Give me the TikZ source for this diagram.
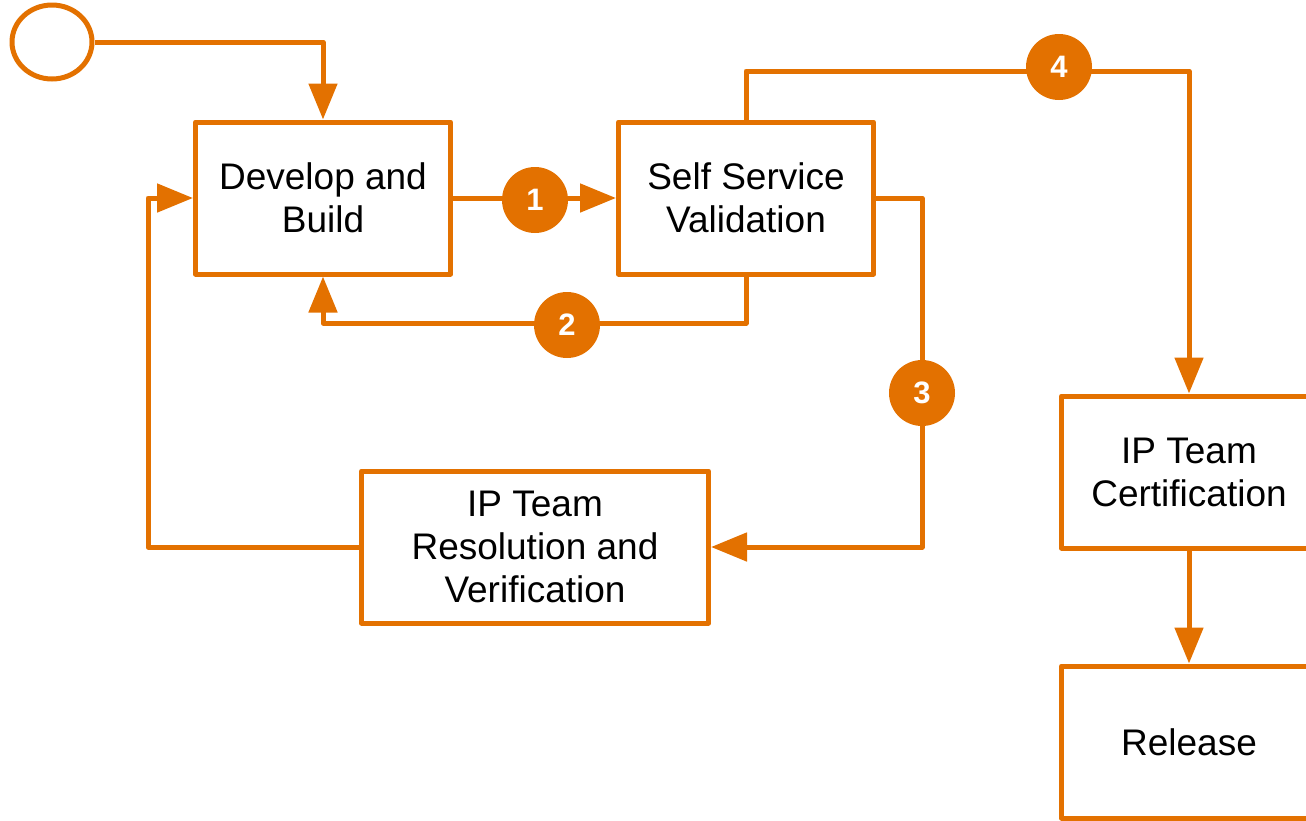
\documentclass[tikz,border=0pt]{standalone}
\usepackage{fontspec}
\setmainfont{Liberation Sans}
\usetikzlibrary{arrows.meta, shapes.geometric}
\definecolor{flow}{RGB}{227,113,0}

\begin{document}
\begin{tikzpicture}[%
        x = 1pt,
        y = -1pt,
        line width = 5pt,
        line join = round,
        > = {Triangle[length = 36pt, width = 28pt]},
        box/.style = {%
            draw = flow,
            minimum width = 255pt,
            minimum height = 152pt,
            inner sep = 0pt,
            align = center,
            font = \fontsize{37}{43}\selectfont
        },
        badge/.style = {%
            circle,
            fill = flow,
            text = white,
            minimum size = 66pt,
            inner sep = 0pt,
            font = \fontsize{31}{31}\selectfont\bfseries
        }
    ]

        % Size of the page.
        \clip (0, 0) rectangle (1306, 820);

        % The start mark and the steps.
        \node[draw = flow, ellipse, minimum width = 80pt, minimum height = 74pt,
            inner sep = 0pt] (start) at (52, 42) {};
        \node[box] (dev) at (323, 198) {Develop and\\Build};
        \node[box] (ssv) at (746, 198) {Self Service\\Validation};
        \node[box, minimum width = 347pt] (ipr) at (535, 547)
            {IP Team\\Resolution and\\Verification};
        \node[box] (cert) at (1189, 472) {IP Team\\Certification};
        \node[box] (rel) at (1189, 742) {Release};

        % Corners of the connectors.
        \coordinate (b2) at (746, 323);
        \coordinate (b3) at (922, 198);
        \coordinate (b4) at (746, 71);
        \coordinate (b5) at (148, 547);

        % Draw the connectors.
        \begin{scope}[draw = flow, ->]
            \draw (start.east) -| (dev.north);
            \draw (dev.east) -- (ssv.west);
            \draw (ssv.south) -- (b2) -| (dev.south);
            \draw (ssv.east) -- (b3) |- (ipr.east);
            \draw (ssv.north) -- (b4) -| (cert.north);
            \draw (ipr.west) -- (b5) |- (dev.west);
            \draw (cert.south) -- (rel.north);
        \end{scope}

        % Number the paths.
        \node[badge] (n1) at (535, 200) {1};
        \node[badge] (n2) at (567, 325) {2};
        \node[badge] (n3) at (922, 393) {3};
        \node[badge] (n4) at (1059, 67) {4};
    \end{tikzpicture}
\end{document}
